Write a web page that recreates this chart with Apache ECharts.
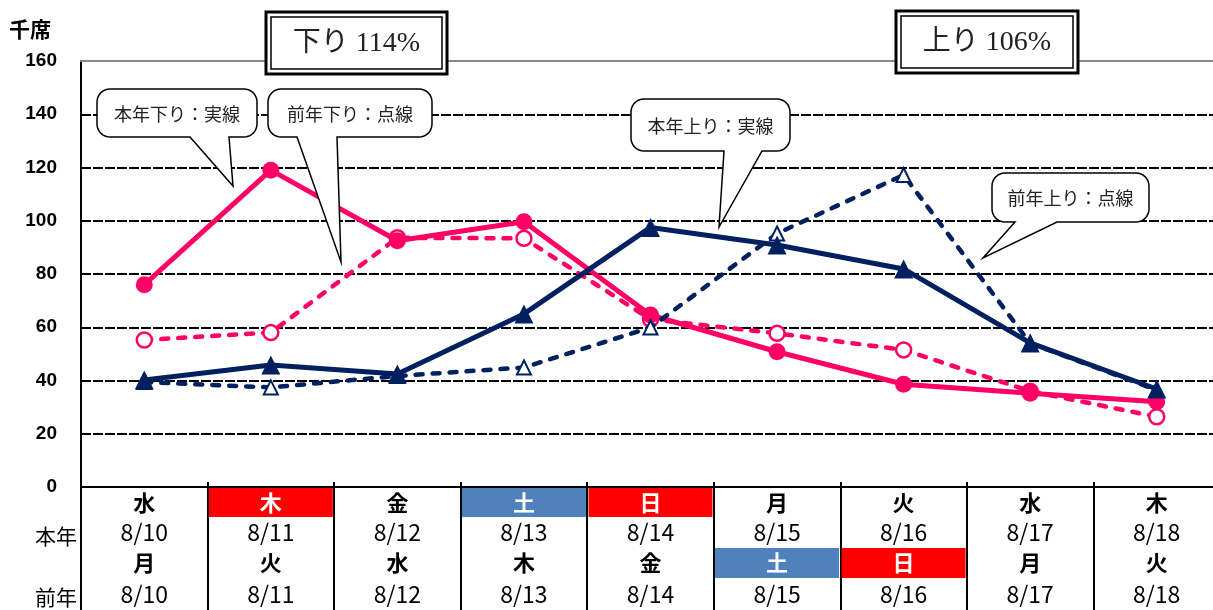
<!DOCTYPE html>
<html>
<head>
<meta charset="utf-8">
<script src="https://cdn.jsdelivr.net/npm/echarts@6/dist/echarts.min.js"></script>
<style>
html,body{margin:0;padding:0;background:#fff;}
#chart{width:1213px;height:610px;}
</style>
</head>
<body>
<div id="chart"></div>
<script>
// ---- data ----
const dates = ['8/10','8/11','8/12','8/13','8/14','8/15','8/16','8/17','8/18'];
const weekdayThis = ['水','木','金','土','日','月','火','水','木'];
const weekdayPrev = ['月','火','水','木','金','土','日','月','火'];
const holidayThis = [false,true,false,false,false,false,false,false,false];
const holidayPrev = [false,false,false,false,false,false,false,false,false];
const downThis = [76, 119, 92.5, 99.6, 64.6, 50.8, 38.6, 35.2, 32.0];
const downPrev = [55.2, 58.0, 93.6, 93.4, 63, 57.7, 51.5, 36, 26.4];
const upThis   = [40.2, 45.8, 42.4, 65.0, 97.5, 90.9, 81.9, 54.1, 36.8];
const upPrev   = [39.4, 37.4, 41.7, 44.9, 59.9, 95.2, 117.2, 54.0, 36.4];
const yTicks = [0, 20, 40, 60, 80, 100, 120, 140, 160];
const unitLabel = '千席';
const rowLabels = ['本年', '前年'];
const titleDown = '下り 114%';
const titleUp = '上り 106%';
const noteLabels = ['本年下り：実線', '前年下り：点線', '本年上り：実線', '前年上り：点線'];

// ---- styling ----
const PINK = '#FF0066';
const NAVY = '#002060';
const RED = '#FF0000';
const BLUE = '#4F81BD';
const CJK = "'Noto Sans CJK JP', sans-serif";

function dayStyle(wd, hol) {
  if (wd === '土') return 'wb';
  if (wd === '日' || hol) return 'wr';
  return 'w';
}

const cellW = 124;
const wBase = {width: cellW, align: 'center', fontSize: 22, fontWeight: 'bold', fontFamily: CJK, color: '#000'};
const rich = {
  w:  Object.assign({}, wBase, {height: 29, lineHeight: 29}),
  wr: Object.assign({}, wBase, {height: 29, lineHeight: 29, backgroundColor: RED, color: '#fff'}),
  wb: Object.assign({}, wBase, {height: 29, lineHeight: 29, backgroundColor: BLUE, color: '#fff'}),
  pw:  Object.assign({}, wBase, {height: 30, lineHeight: 30}),
  pwr: Object.assign({}, wBase, {height: 30, lineHeight: 30, backgroundColor: RED, color: '#fff'}),
  pwb: Object.assign({}, wBase, {height: 30, lineHeight: 30, backgroundColor: BLUE, color: '#fff'}),
  d:  {width: cellW, align: 'center', height: 31, lineHeight: 31, fontSize: 23, fontFamily: CJK, color: '#000'},
  pd: {width: cellW, align: 'center', height: 32, lineHeight: 32, fontSize: 23, fontFamily: CJK, color: '#000'}
};

function bubblePoints(x1, y1, x2, y2, r, bx1, bx2, tx, ty) {
  const pts = [];
  function arc(cx, cy, a0, a1) {
    const n = 8;
    for (let i = 0; i <= n; i++) {
      const a = (a0 + (a1 - a0) * i / n) * Math.PI / 180;
      pts.push([cx + r * Math.cos(a), cy + r * Math.sin(a)]);
    }
  }
  arc(x2 - r, y1 + r, -90, 0);
  arc(x2 - r, y2 - r, 0, 90);
  pts.push([bx2, y2], [tx, ty], [bx1, y2]);
  arc(x1 + r, y2 - r, 90, 180);
  arc(x1 + r, y1 + r, 180, 270);
  return pts;
}

function bubble(label, x1, y1, x2, y2, bx1, bx2, tx, ty) {
  return [
    {type: 'polygon', z: 100, shape: {points: bubblePoints(x1, y1, x2, y2, 13, bx1, bx2, tx, ty)},
     style: {fill: '#fff', stroke: '#000', lineWidth: 1.5}},
    {type: 'text', z: 101, x: (x1 + x2) / 2, y: (y1 + y2) / 2 + 1,
     style: {text: label, fill: '#222', font: "18px 'Noto Sans CJK JP'", align: 'center', verticalAlign: 'middle', textAlign: 'center', textVerticalAlign: 'middle'}}
  ];
}

function titleBox(label, x, y, w, h) {
  return [
    {type: 'rect', z: 100, shape: {x: x, y: y, width: w, height: h}, style: {fill: '#fff', stroke: '#000', lineWidth: 3}},
    {type: 'rect', z: 100, shape: {x: x + 5, y: y + 5, width: w - 10, height: h - 10}, style: {fill: 'none', stroke: '#000', lineWidth: 1.5}},
    {type: 'text', z: 101, x: x + w / 2, y: y + h / 2 + 1,
     style: {text: label, fill: '#222', font: "28px 'Liberation Serif', 'Noto Sans CJK JP', serif", align: 'center', verticalAlign: 'middle', textAlign: 'center', textVerticalAlign: 'middle'}}
  ];
}

const graphics = [].concat(
  [{type: 'text', z: 101, x: 9, y: 29, style: {text: unitLabel, fill: '#000', font: "bold 21px 'Noto Sans CJK JP'", align: 'left', verticalAlign: 'middle', textAlign: 'left', textVerticalAlign: 'middle'}}],
  [{type: 'text', z: 101, x: 77, y: 536, style: {text: rowLabels[0], fill: '#000', font: "21px 'Noto Sans CJK JP'", align: 'right', verticalAlign: 'middle', textAlign: 'right', textVerticalAlign: 'middle'}}],
  [{type: 'text', z: 101, x: 77, y: 597, style: {text: rowLabels[1], fill: '#000', font: "21px 'Noto Sans CJK JP'", align: 'right', verticalAlign: 'middle', textAlign: 'right', textVerticalAlign: 'middle'}}],
  titleBox(titleDown, 266, 12, 181, 62),
  titleBox(titleUp, 896, 11, 182, 62),
  bubble(noteLabels[0], 97, 89, 257, 137, 190, 229, 233, 186),
  bubble(noteLabels[1], 268, 89, 432, 137, 297, 337, 341, 262),
  bubble(noteLabels[2], 631, 99, 790, 151, 724, 762, 719, 227),
  bubble(noteLabels[3], 992, 173, 1149, 222, 1015, 1057, 983, 258)
);

const chart = echarts.init(document.getElementById('chart'), null, {renderer: 'canvas'});
chart.setOption({
  animation: false,
  backgroundColor: '#fff',
  grid: {left: 81, width: 1139, top: 61, height: 426, containLabel: false, outerBoundsMode: 'none'},
  xAxis: [
    {
      type: 'category', position: 'bottom', data: dates, boundaryGap: true,
      axisLine: {show: true, lineStyle: {color: '#000', width: 2}},
      axisTick: {show: true, interval: 0, inside: false, length: 123, lineStyle: {color: '#000', width: 2}},
      axisLabel: {
        show: true, interval: 0, margin: 1, hideOverlap: false,
        formatter: function (v, i) {
          const s1 = dayStyle(weekdayThis[i], holidayThis[i]);
          const s2 = 'p' + dayStyle(weekdayPrev[i], holidayPrev[i]);
          return '{' + s1 + '|' + weekdayThis[i] + '}\n{d|' + dates[i] + '}\n{' + s2 + '|' + weekdayPrev[i] + '}\n{pd|' + dates[i] + '}';
        },
        rich: rich
      },
      splitLine: {show: false}
    },
    {
      type: 'category', position: 'bottom', data: dates, boundaryGap: true,
      axisLine: {show: false},
      axisTick: {show: true, interval: 0, inside: true, length: 5, lineStyle: {color: '#000', width: 2}},
      axisLabel: {show: false}, splitLine: {show: false}
    },
    {
      type: 'category', position: 'top', data: dates, boundaryGap: true,
      axisLine: {show: true, lineStyle: {color: '#888', width: 2}},
      axisTick: {show: false}, axisLabel: {show: false}, splitLine: {show: false}
    }
  ],
  yAxis: {
    type: 'value', min: yTicks[0], max: yTicks[yTicks.length - 1], interval: 20,
    axisLine: {show: true, lineStyle: {color: '#000', width: 2}},
    axisTick: {show: false},
    axisLabel: {color: '#000', fontSize: 19, fontWeight: 'bold', fontFamily: "'Liberation Sans', Arial, sans-serif", margin: 24},
    splitLine: {show: true, showMinLine: false, showMaxLine: false, lineStyle: {color: '#000', width: 2, type: [10, 2]}}
  },
  series: [
    {
      name: '前年下り', type: 'line', data: downPrev, z: 3,
      lineStyle: {color: PINK, width: 4.5, type: [7, 10], cap: 'round'},
      symbol: 'circle', symbolSize: 15,
      itemStyle: {color: '#fff', borderColor: PINK, borderWidth: 2.5}
    },
    {
      name: '本年下り', type: 'line', data: downThis, z: 4,
      lineStyle: {color: PINK, width: 5},
      symbol: 'circle', symbolSize: 17,
      itemStyle: {color: PINK, borderColor: PINK, borderWidth: 0}
    },
    {
      name: '前年上り', type: 'line', data: upPrev, z: 5,
      lineStyle: {color: NAVY, width: 4.5, type: [7, 10], cap: 'round'},
      symbol: 'triangle', symbolSize: 14,
      itemStyle: {color: '#fff', borderColor: NAVY, borderWidth: 2}
    },
    {
      name: '本年上り', type: 'line', data: upThis, z: 6,
      lineStyle: {color: NAVY, width: 5},
      symbol: 'triangle', symbolSize: 19,
      itemStyle: {color: NAVY, borderColor: NAVY, borderWidth: 0}
    }
  ],
  graphic: graphics
});
</script>
</body>
</html>
